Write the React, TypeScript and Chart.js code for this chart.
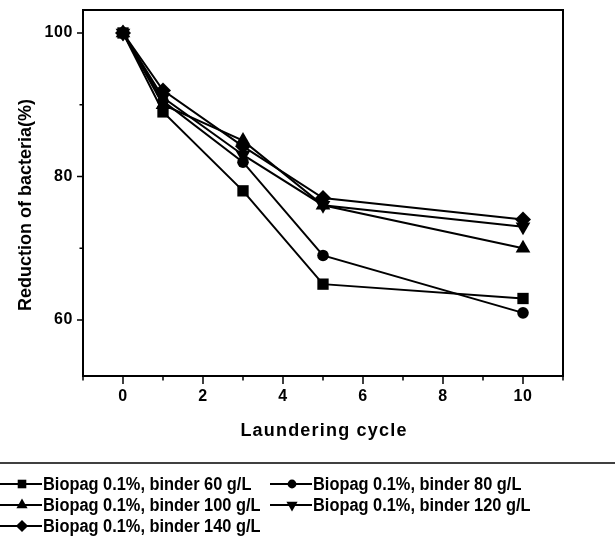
import React, { useEffect, useRef } from 'react';
import { Chart, registerables } from 'chart.js';

Chart.register(...registerables);

// Laundering cycles at which the antibacterial reduction was measured
const cycles = [0, 1, 3, 5, 10];

// Reduction of bacteria (%) per binder concentration
const binder60 = [100, 89, 78, 65, 63];
const binder80 = [100, 90.5, 82, 69, 61];
const binder100 = [100, 90, 85, 76, 70];
const binder120 = [100, 91, 83, 76, 73];
const binder140 = [100, 92, 84.2, 77, 74];

const seriesLabels = [
  'Biopag 0.1%, binder 60 g/L',
  'Biopag 0.1%, binder 80 g/L',
  'Biopag 0.1%, binder 100 g/L',
  'Biopag 0.1%, binder 120 g/L',
  'Biopag 0.1%, binder 140 g/L',
];

const xMajorTicks = [0, 2, 4, 6, 8, 10];
const xMinorTicks = [-1, 1, 3, 5, 7, 9, 11];
const yMajorTicks = [60, 80, 100];
const yMinorTicks = [70, 90];

const xTitle = 'Laundering cycle';
const yTitle = 'Reduction of bacteria(%)';

const FONT = '"Liberation Sans", Arial, Helvetica, sans-serif';

type Marker = { style: string; radius: number; rotation: number };
const markers: Marker[] = [
  { style: 'rect', radius: 8, rotation: 0 },
  { style: 'circle', radius: 5.8, rotation: 0 },
  { style: 'triangle', radius: 8.5, rotation: 0 },
  { style: 'triangle', radius: 8.5, rotation: 180 },
  { style: 'rectRot', radius: 8, rotation: 0 },
];

const seriesValues = [binder60, binder80, binder100, binder120, binder140];

function drawMarker(ctx: CanvasRenderingContext2D, m: Marker, x: number, y: number, scale: number) {
  const r = m.radius * scale;
  ctx.beginPath();
  if (m.style === 'rect') {
    const h = r * Math.SQRT1_2;
    ctx.rect(x - h, y - h, 2 * h, 2 * h);
  } else if (m.style === 'circle') {
    ctx.arc(x, y, r, 0, Math.PI * 2);
  } else if (m.style === 'triangle') {
    const dir = m.rotation === 180 ? -1 : 1;
    ctx.moveTo(x, y - dir * r);
    ctx.lineTo(x + r * 0.866, y + dir * r * 0.5);
    ctx.lineTo(x - r * 0.866, y + dir * r * 0.5);
    ctx.closePath();
  } else {
    ctx.moveTo(x, y - r);
    ctx.lineTo(x + r, y);
    ctx.lineTo(x, y + r);
    ctx.lineTo(x - r, y);
    ctx.closePath();
  }
  ctx.fillStyle = '#000';
  ctx.fill();
}

const frameAndDecor = {
  id: 'frameAndDecor',
  beforeDraw(chart: any) {
    const ctx = chart.ctx as CanvasRenderingContext2D;
    ctx.save();
    ctx.fillStyle = '#fff';
    ctx.fillRect(0, 0, chart.width, chart.height);
    ctx.restore();
    // slightly spaced tick digits
    (ctx as any).letterSpacing = '0.6px';
  },
  beforeDatasetsDraw(chart: any) {
    (chart.ctx as any).letterSpacing = '0px';
  },
  afterDraw(chart: any) {
    const ctx = chart.ctx as CanvasRenderingContext2D;
    const { left, right, top, bottom } = chart.chartArea;
    const xs = chart.scales.x;
    const ys = chart.scales.y;
    ctx.save();
    (ctx as any).letterSpacing = '0px';
    ctx.strokeStyle = '#000';

    // plot frame
    ctx.lineWidth = 2;
    ctx.strokeRect(left, top, right - left, bottom - top);

    // tick marks (outward)
    ctx.lineWidth = 1.5;
    ctx.beginPath();
    xMajorTicks.forEach((v) => {
      const px = xs.getPixelForValue(v);
      ctx.moveTo(px, bottom);
      ctx.lineTo(px, bottom + 8);
    });
    xMinorTicks.forEach((v) => {
      const px = xs.getPixelForValue(v);
      ctx.moveTo(px, bottom);
      ctx.lineTo(px, bottom + 4.5);
    });
    yMajorTicks.forEach((v) => {
      const py = ys.getPixelForValue(v);
      ctx.moveTo(left, py);
      ctx.lineTo(left - 6, py);
    });
    yMinorTicks.forEach((v) => {
      const py = ys.getPixelForValue(v);
      ctx.moveTo(left, py);
      ctx.lineTo(left - 3.5, py);
    });
    ctx.stroke();

    // axis titles
    ctx.fillStyle = '#000';
    ctx.font = `bold 18px ${FONT}`;
    ctx.textAlign = 'center';
    ctx.textBaseline = 'alphabetic';
    (ctx as any).letterSpacing = '1.2px';
    ctx.fillText(xTitle, (left + right) / 2 + 1, 436);
    (ctx as any).letterSpacing = '0px';
    ctx.save();
    ctx.translate(31, 205);
    ctx.rotate(-Math.PI / 2);
    ctx.fillText(yTitle, 0, 0);
    ctx.restore();

    // legend separator
    ctx.lineWidth = 1.5;
    ctx.beginPath();
    ctx.moveTo(0, 463);
    ctx.lineTo(chart.width, 463);
    ctx.stroke();

    // legend entries
    const cols = [0, 270];
    const rows = [484, 505, 526];
    seriesLabels.forEach((label, i) => {
      const x0 = cols[i % 2];
      const y = rows[Math.floor(i / 2)];
      ctx.lineWidth = 2;
      ctx.beginPath();
      ctx.moveTo(x0, y);
      ctx.lineTo(x0 + 42, y);
      ctx.stroke();
      drawMarker(ctx, markers[i], x0 + 22, y, 0.76);
      ctx.save();
      ctx.translate(x0 + 43, y);
      ctx.scale(0.91, 1);
      ctx.font = `bold 18px ${FONT}`;
      ctx.textAlign = 'left';
      ctx.textBaseline = 'middle';
      ctx.fillText(label, 0, 1);
      ctx.restore();
    });
    ctx.restore();
  },
};

export default function App() {
  const canvasRef = useRef<HTMLCanvasElement>(null);

  useEffect(() => {
    if (!canvasRef.current) return;
    const chart = new Chart(canvasRef.current, {
      type: 'line',
      data: {
        datasets: seriesValues.map((vals, i) => ({
          label: seriesLabels[i],
          data: cycles.map((c, j) => ({ x: c, y: vals[j] })),
          borderColor: '#000',
          backgroundColor: '#000',
          borderWidth: 2,
          pointStyle: markers[i].style as any,
          pointRadius: markers[i].radius,
          pointRotation: markers[i].rotation,
          pointBorderWidth: 0,
          tension: 0,
          fill: false,
        })),
      },
      options: {
        responsive: false,
        animation: false,
        layout: { padding: { left: 0, top: 10, right: 52, bottom: 0 } },
        plugins: {
          legend: { display: false },
          tooltip: { enabled: false },
        },
        scales: {
          x: {
            type: 'linear',
            min: -1,
            max: 11,
            grid: { display: false, drawTicks: false },
            border: { display: false },
            afterBuildTicks: (scale: any) => {
              scale.ticks = xMajorTicks.map((v) => ({ value: v }));
            },
            afterFit: (scale: any) => {
              scale.height = 165;
              scale.paddingLeft = 0;
              scale.paddingRight = 0;
            },
            ticks: {
              color: '#000',
              padding: 11,
              maxRotation: 0,
              autoSkip: false,
              font: { family: FONT, size: 16, weight: 'bold' },
              callback: (v: any) => String(v),
            },
          },
          y: {
            type: 'linear',
            min: 52.2,
            max: 103.2,
            grid: { display: false, drawTicks: false },
            border: { display: false },
            afterBuildTicks: (scale: any) => {
              scale.ticks = yMajorTicks.map((v) => ({ value: v }));
            },
            afterFit: (scale: any) => {
              scale.width = 83;
              scale.paddingTop = 0;
              scale.paddingBottom = 0;
            },
            ticks: {
              color: '#000',
              padding: 10,
              autoSkip: false,
              font: { family: FONT, size: 16, weight: 'bold' },
              callback: (v: any) => String(v),
            },
          },
        },
      },
      plugins: [frameAndDecor],
    });
    return () => chart.destroy();
  }, []);

  return (
    <div style={{ position: 'absolute', left: 0, top: 0, width: 615, height: 541 }}>
      <canvas ref={canvasRef} width={615} height={541} style={{ width: 615, height: 541, display: 'block' }} />
    </div>
  );
}
